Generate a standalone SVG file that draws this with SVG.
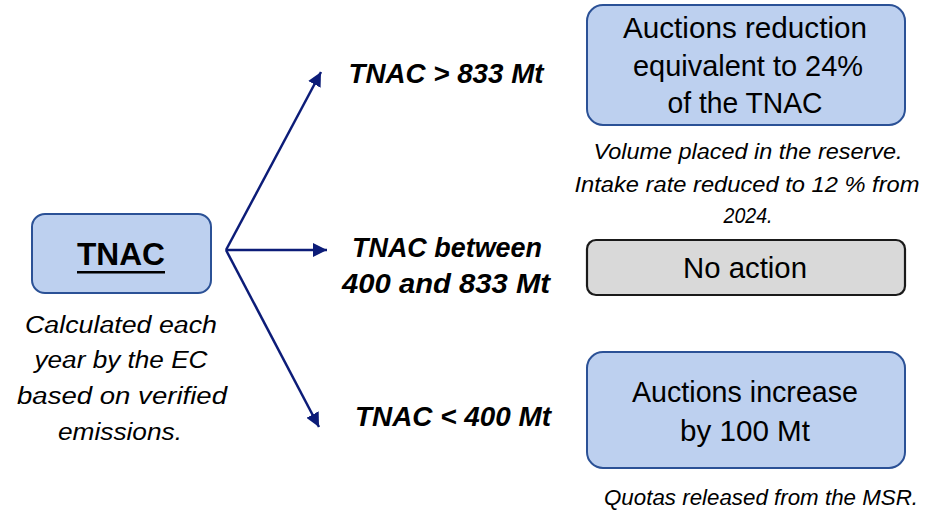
<svg xmlns="http://www.w3.org/2000/svg" width="930" height="513" viewBox="0 0 930 513">
<defs>
<marker id="ah" markerUnits="userSpaceOnUse" markerWidth="16" markerHeight="14" refX="14" refY="7" orient="auto">
<path d="M0,0 L14,7 L0,14 Z" fill="#0c1c78"/>
</marker>
<style>
.blue{fill:#bdd0ef;stroke:#2b5196;stroke-width:2}
.gray{fill:#d9d9d9;stroke:#1a1a1a;stroke-width:2.2}
.t{font-family:"Liberation Sans",Arial,sans-serif;fill:#000;text-anchor:middle}
.box{font-size:29px}
.it{font-style:italic;font-size:22.5px}
.lit{font-style:italic;font-size:23px}
.lab{font-style:italic;font-weight:bold;font-size:27px}
.con{stroke:#0c1c78;stroke-width:2.5;fill:none;marker-end:url(#ah)}
</style>
</defs>
<rect width="930" height="513" fill="#fff"/>
<g id="connectors">
<line class="con" x1="226" y1="250" x2="321" y2="72"/>
<line class="con" x1="226" y1="250" x2="327" y2="250"/>
<line class="con" x1="226" y1="250" x2="319" y2="427"/>
</g>
<g id="tnac">
<rect class="blue" x="32" y="214" width="179" height="79" rx="13"/>
<text class="t" x="121" y="265" font-size="30.5" font-weight="bold" textLength="88" lengthAdjust="spacingAndGlyphs">TNAC</text>
<rect x="77" y="271" width="88" height="2.5" fill="#000"/>
<text class="t lit"><tspan x="121" y="333" textLength="192" lengthAdjust="spacingAndGlyphs">Calculated each</tspan><tspan x="121" y="368" textLength="173" lengthAdjust="spacingAndGlyphs">year by the EC</tspan><tspan x="122" y="404" textLength="210" lengthAdjust="spacingAndGlyphs">based on verified</tspan><tspan x="120" y="440" textLength="124" lengthAdjust="spacingAndGlyphs">emissions.</tspan></text>
</g>
<g id="label-high">
<text class="t lab" x="446" y="83" textLength="195" lengthAdjust="spacingAndGlyphs">TNAC &gt; 833 Mt</text>
</g>
<g id="label-mid">
<text class="t lab"><tspan x="447" y="257" textLength="190" lengthAdjust="spacingAndGlyphs">TNAC between</tspan><tspan x="446" y="293" textLength="208" lengthAdjust="spacingAndGlyphs">400 and 833 Mt</tspan></text>
</g>
<g id="label-low">
<text class="t lab" x="453" y="426" textLength="196" lengthAdjust="spacingAndGlyphs">TNAC &lt; 400 Mt</text>
</g>
<g id="reduction">
<rect class="blue" x="587" y="5" width="318" height="120" rx="16"/>
<text class="t box"><tspan x="745" y="38" textLength="244" lengthAdjust="spacingAndGlyphs">Auctions reduction</tspan><tspan x="748" y="76" textLength="230" lengthAdjust="spacingAndGlyphs">equivalent to 24%</tspan><tspan x="745" y="113" textLength="155" lengthAdjust="spacingAndGlyphs">of the TNAC</tspan></text>
<text class="t it"><tspan x="748" y="159" textLength="309" lengthAdjust="spacingAndGlyphs">Volume placed in the reserve.</tspan><tspan x="747" y="192" textLength="345" lengthAdjust="spacingAndGlyphs">Intake rate reduced to 12 % from</tspan><tspan x="748" y="223" textLength="49" lengthAdjust="spacingAndGlyphs">2024.</tspan></text>
</g>
<g id="no-action">
<rect class="gray" x="587" y="240" width="318" height="55" rx="9"/>
<text class="t box" x="745" y="278" textLength="124" lengthAdjust="spacingAndGlyphs">No action</text>
</g>
<g id="increase">
<rect class="blue" x="587" y="352" width="318" height="116" rx="16"/>
<text class="t box"><tspan x="745" y="402" textLength="226" lengthAdjust="spacingAndGlyphs">Auctions increase</tspan><tspan x="745" y="441" textLength="130" lengthAdjust="spacingAndGlyphs">by 100 Mt</tspan></text>
<text class="t it" x="761" y="505" textLength="314" lengthAdjust="spacingAndGlyphs">Quotas released from the MSR.</text>
</g>
</svg>
